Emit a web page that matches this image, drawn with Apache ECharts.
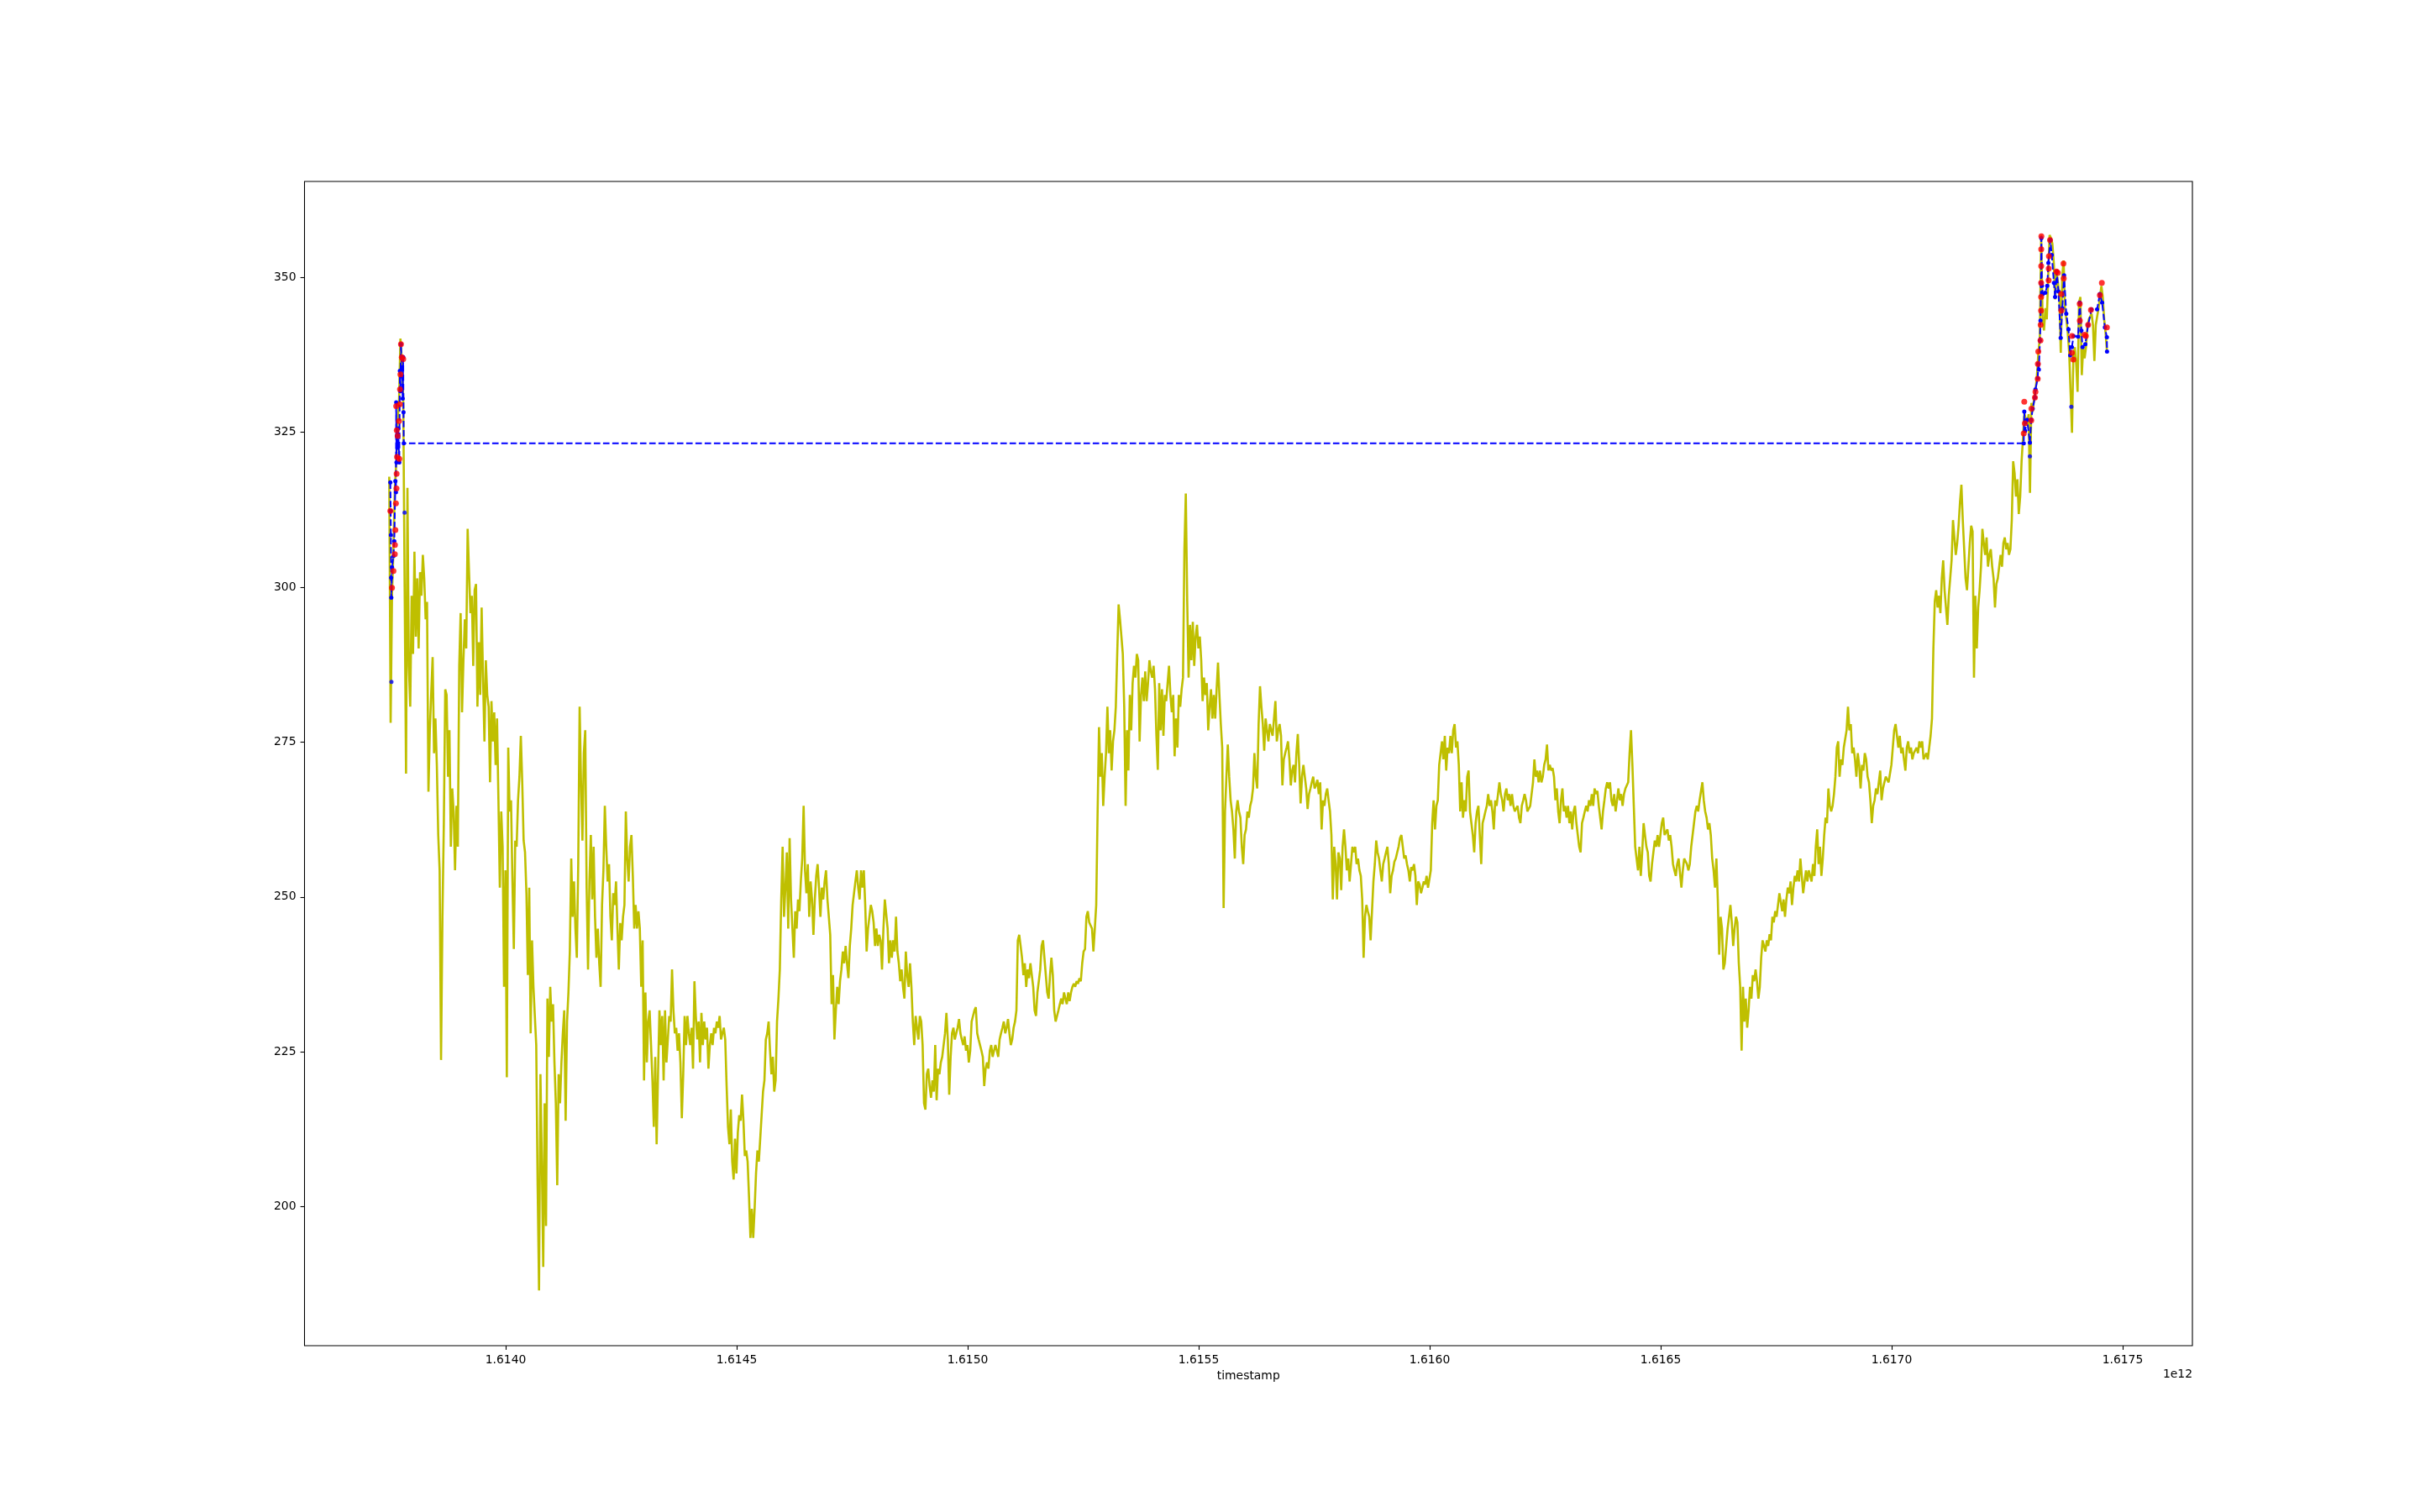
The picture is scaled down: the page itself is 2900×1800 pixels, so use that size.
<!DOCTYPE html>
<html>
<head>
<meta charset="utf-8">
<title>timestamp</title>
<script src="https://cdn.jsdelivr.net/npm/echarts/dist/echarts.min.js"></script>
<style>
html, body { margin: 0; padding: 0; background: #fff; }
#main { width: 2900px; height: 1800px; }
</style>
</head>
<body>
<div id="main"></div>
<script>
// closes, one reading every ~50 min, first at 2021-02-19 15:25 UTC
var closeStart = 1613747930000;
var closeStep = 3030303;

var closeFeb19 = [
	317.8, 278.1, 299.0, 306.0, 315.9, 320.1, 326.8, 330.0, 340.1, 336.5, 330.4, 300.0, 269.9, 316.0, 287.3, 280.7, 298.6, 289.2, 305.7, 292.0,
	301.4, 290.1, 302.4, 298.6, 305.2, 301.4, 294.8, 297.6, 267.0, 277.0, 283.0, 288.7, 273.2, 278.8, 271.3, 260.0, 254.3, 223.7, 246.8, 261.9,
	283.5, 282.6, 269.4, 276.9, 258.1, 267.5, 263.8, 254.3, 264.7, 258.1, 287.3, 295.8, 279.8, 288.2, 294.8, 290.1, 309.4, 302.4, 295.8, 298.6,
	287.3, 299.5, 300.5, 280.7, 291.1, 282.6, 296.7, 285.4, 275.1, 288.2, 282.6, 280.7, 268.5, 281.6, 275.1, 279.8, 271.3, 278.8, 265.6, 251.5,
	263.8, 258.1, 235.5, 254.3, 220.9, 274.1, 263.8, 265.6, 252.5, 241.6, 259.1, 258.1, 265.6, 269.4, 276.0, 268.5, 259.1, 257.2, 250.6, 237.4,
	251.5, 228.0, 243.0, 235.5, 230.8, 226.1, 203.5, 186.5, 221.4, 207.3, 190.3, 216.7, 196.9, 233.6, 224.2, 235.5, 229.9, 232.7, 223.3, 216.7,
	203.5, 221.4, 216.7, 223.3, 228.0, 231.7, 213.9, 229.9, 234.6, 241.2, 256.2, 246.8, 252.5, 244.9, 240.2, 255.3, 280.7, 268.5, 259.1, 273.2,
	276.9, 251.5, 238.3, 252.5, 260.0, 249.6, 258.1, 246.8, 240.2, 244.9, 239.3, 235.5, 248.7, 254.3, 264.7, 258.1, 252.5, 255.3, 246.8, 243.0,
	250.6, 248.7, 252.5, 244.9, 238.3, 245.8, 243.0, 246.8, 248.7, 263.8, 256.2, 252.5, 258.1, 260.0, 253.4, 244.9, 248.7, 244.9, 247.7, 244.9,
	235.5, 243.0, 220.4, 234.6, 223.3, 229.9, 231.7, 226.1, 220.4, 212.9, 224.2, 210.1, 221.4, 231.7, 226.1, 230.8, 220.4, 231.7, 223.3, 227.0,
	230.8, 229.9, 238.3, 231.7, 228.0, 228.9, 225.2, 228.0, 223.3, 214.3, 221.4, 230.8, 226.1, 230.8, 228.0, 226.1, 228.9, 222.3, 236.4, 230.8,
	227.0, 229.9, 223.3, 231.3, 226.1, 229.9, 227.0, 228.9, 222.3, 226.1, 228.0, 226.1, 228.9, 228.0, 229.9, 228.9, 230.8, 227.0
];
var closeFeb27 = [
	228.0, 228.9, 227.0, 219.5, 212.9, 210.1, 215.7, 207.3, 204.4, 211.0, 205.4, 212.0, 214.8, 213.9, 218.1, 213.9, 208.2, 209.1, 207.3, 201.6,
	195.0, 199.7, 195.0, 199.7, 205.4, 209.1, 207.3, 211.0, 214.8, 218.6, 220.4, 227.0, 228.0, 229.9, 225.2, 221.4, 224.2, 218.6, 220.4, 229.9,
	233.6, 238.3, 249.6, 258.1, 246.8, 251.5, 257.2, 244.9, 259.5, 249.6, 244.9, 240.2, 247.7, 244.9, 249.6, 247.7, 252.5, 256.2, 264.7, 254.3,
	250.6, 255.3, 246.8, 252.5, 249.6, 243.9, 249.6, 253.4, 255.3, 251.5, 246.8, 251.5, 249.6, 252.5, 254.3, 249.6, 246.8, 243.9, 232.7, 237.4,
	227.0, 231.7, 235.5, 232.7, 236.4, 238.3, 241.2, 239.3, 242.1, 239.3, 236.9, 242.1, 244.9, 248.7, 250.6, 252.5, 254.3, 251.5, 249.6, 254.3,
	251.5, 254.3, 248.7, 241.2, 244.9, 246.8, 248.7, 247.7, 245.9, 242.1, 244.9, 242.1, 243.9, 243.0, 238.3, 244.9, 249.6, 249.6, 244.9, 239.3,
	243.0, 240.2, 243.0, 241.2, 246.8, 241.2, 239.3, 236.4, 238.3, 235.5, 233.6, 241.2, 237.4, 235.5, 239.3, 235.5, 229.9, 226.1, 230.8, 228.9,
	227.0, 230.8, 229.9, 226.1, 216.7, 215.7, 221.4, 222.3, 219.5, 217.6, 220.4, 218.6, 226.1, 217.2, 222.3, 221.4, 223.3, 224.2, 226.1, 228.0,
	231.3, 227.0, 218.1, 224.2, 228.0, 228.9, 227.0, 228.0, 228.9, 230.3, 228.0, 227.0, 226.1, 227.5, 225.2, 226.1, 223.3, 225.2, 229.9, 230.8,
	231.7, 232.2, 228.0, 227.0, 226.1, 225.2, 224.2, 219.5, 222.3, 223.3, 222.3, 225.2, 226.1, 224.2, 225.2, 226.1, 225.2, 224.2, 227.0, 228.0,
	228.9, 229.9, 228.0, 228.9, 230.3, 228.0, 226.1, 227.0, 228.9, 229.9, 231.7, 243.0, 243.9, 242.1, 240.2, 237.4, 239.3, 235.5, 238.3, 236.9,
	239.3, 237.4, 235.5, 231.7, 230.8, 234.6, 236.4, 238.3, 242.1, 243.0, 240.2, 237.4, 234.6, 233.6, 237.4, 240.2, 237.4, 231.7, 229.9, 230.8,
	231.7, 232.7, 233.6, 232.7, 234.6, 233.6, 232.7, 234.6, 233.2, 234.6, 235.5, 236.0
];
var closeMar08 = [
	235.5, 236.4, 236.0, 236.9, 236.4, 239.3, 241.2, 241.6, 246.8, 247.7, 245.9, 245.4, 244.9, 241.2, 244.9, 248.7, 263.8, 277.4, 269.4, 273.2,
	264.7, 269.4, 273.2, 280.7, 273.2, 276.9, 270.4, 275.1, 276.9, 280.7, 289.2, 297.2, 294.8, 292.0, 289.2, 280.7, 264.7, 276.9, 270.4, 282.6,
	276.9, 284.5, 287.3, 285.4, 289.2, 288.2, 275.1, 282.6, 285.4, 281.6, 286.4, 281.6, 284.5, 288.2, 286.4, 285.4, 287.3, 283.5, 276.0, 270.5,
	284.5, 276.9, 283.5, 276.0, 282.6, 281.6, 284.5, 287.3, 282.6, 279.8, 282.6, 272.7, 278.8, 274.1, 282.6, 280.7, 283.5, 285.4, 306.1, 315.1,
	297.7, 285.4, 293.9, 288.2, 294.4, 287.3, 292.0, 293.9, 290.1, 292.0, 288.2, 281.6, 285.4, 282.6, 284.5, 276.9, 280.7, 283.5, 278.8, 282.6,
	278.8, 283.5, 287.8, 282.6, 277.9, 274.1, 248.2, 263.8, 269.4, 274.6, 269.4, 265.6, 263.8, 260.9, 256.2, 263.8, 265.6, 263.8, 262.8, 258.1,
	255.3, 260.0, 260.9, 263.8, 262.8, 264.7, 265.6, 267.5, 273.2, 269.4, 267.5, 277.9, 284.0, 280.7, 277.9, 273.6, 278.8, 276.9, 275.1, 277.9,
	276.9, 276.0, 278.8, 281.6, 275.1, 276.9, 277.9, 276.0, 268.0, 272.2, 273.2, 274.1, 275.1, 272.2, 268.0, 270.4, 271.3, 268.5, 273.2, 276.3,
	271.3, 265.1, 269.4, 271.3, 269.4, 267.5, 264.2, 266.6, 267.5, 268.5, 269.4, 267.5, 268.0, 268.9, 266.6, 268.5, 260.9, 265.6, 264.7, 266.6,
	267.5, 265.6, 263.8, 260.0, 249.6, 258.1, 255.3, 249.6, 257.2, 256.2, 251.1, 258.1, 260.9, 258.1, 254.3, 256.2, 252.5, 255.3, 258.1, 257.2,
	258.1, 255.3, 256.2, 254.3, 253.4, 249.6, 240.2, 246.8, 248.7, 247.7, 246.8, 243.0, 247.7, 252.5, 255.3, 259.1, 257.2, 256.2, 254.3, 252.5,
	255.3, 256.2, 257.2, 258.1, 255.3, 250.6, 253.4, 254.3, 255.7, 256.2, 257.2, 258.1, 259.5, 260.0, 258.1, 256.2, 256.7, 255.3, 254.3, 252.5,
	254.8, 254.3, 255.3, 253.4, 248.7, 252.5, 252.0, 250.6, 251.5, 252.5, 252.0, 253.4
];
var closeMar17 = [
	251.5, 252.9, 254.3, 261.9, 265.6, 260.9, 264.7, 265.6, 271.3, 273.2, 275.1, 272.2, 276.0, 270.4, 274.1, 273.2, 276.0, 273.2, 276.9, 277.9,
	274.1, 275.1, 271.3, 263.8, 268.5, 262.8, 265.6, 263.8, 269.4, 270.4, 263.8, 261.9, 260.0, 257.2, 261.9, 263.8, 264.7, 260.0, 255.3, 261.9,
	262.8, 263.8, 264.7, 266.6, 264.7, 265.6, 263.8, 260.9, 265.6, 264.7, 266.6, 268.5, 266.6, 265.6, 263.8, 266.6, 267.5, 265.6, 266.6, 264.7,
	266.6, 264.7, 263.8, 263.8, 264.7, 262.8, 261.9, 264.7, 265.6, 266.6, 265.6, 263.8, 263.8, 264.7, 264.7, 268.5, 272.2, 269.4, 270.4, 268.5,
	270.4, 268.5, 269.4, 271.3, 272.2, 274.6, 270.4, 271.3, 270.4, 270.8, 269.4, 265.6, 267.5, 263.8, 261.9, 265.6, 267.5, 263.8, 264.7, 262.8,
	264.7, 261.9, 263.8, 260.9, 263.8, 264.7, 261.9, 260.0, 258.1, 257.2, 261.9, 262.8, 263.8, 264.7, 263.8, 265.6, 264.7, 266.6, 264.7, 267.5,
	266.6, 267.1, 264.7, 262.8, 260.9, 263.8, 265.6, 267.5, 268.5, 267.5, 268.5, 265.6, 264.7, 266.6, 263.8, 265.6, 267.5, 265.6, 266.6, 264.7,
	266.6, 267.5, 267.5, 268.5, 273.2, 276.9, 271.3, 264.7, 258.1, 256.2, 254.3, 258.1, 253.4, 257.2, 261.9, 260.0, 258.1, 257.2, 253.4, 252.5,
	255.3, 257.2, 259.1, 258.1, 260.0, 258.1, 260.0, 261.9, 262.8, 260.0, 260.0, 260.9, 259.1, 260.0, 258.1, 255.3, 254.3, 253.4, 255.3, 256.2,
	256.2, 251.5, 254.3, 256.2, 256.2, 255.3, 254.3, 255.3, 258.1, 260.0, 261.9, 263.8, 264.7, 263.8, 265.6, 265.6, 268.5, 265.6, 263.8, 262.8,
	260.9, 261.9, 260.0, 256.2, 254.3, 251.5, 256.2, 249.6, 240.7, 246.8, 244.9, 238.3, 239.3, 242.1, 244.9, 246.8, 248.7, 245.9, 242.1, 244.9,
	246.8, 245.9, 239.3, 235.5, 225.2, 235.5, 229.9, 233.6, 228.9, 231.7, 235.5, 233.6, 237.4, 236.4, 238.3, 236.4, 233.6, 235.5, 240.2, 243.0,
	242.1, 241.2, 243.0, 242.1, 244.0, 243.0, 246.8, 245.9, 247.7, 246.8, 248.7, 250.6
];
var closeMar26 = [
	250.6, 247.7, 249.6, 246.8, 249.6, 251.5, 250.6, 252.5, 248.7, 251.5, 253.4, 252.5, 254.3, 252.5, 256.2, 253.4, 250.6, 252.5, 254.3, 252.5,
	254.3, 253.4, 252.5, 255.3, 253.4, 258.1, 260.9, 255.3, 258.1, 253.4, 256.2, 260.0, 262.8, 261.9, 267.5, 264.7, 263.8, 264.7, 266.6, 269.4,
	274.1, 275.1, 269.4, 272.2, 271.3, 274.1, 274.1, 276.9, 280.7, 276.9, 277.9, 273.2, 274.1, 272.2, 269.4, 273.2, 271.3, 267.5, 271.3, 270.4,
	273.2, 272.2, 269.4, 268.5, 265.6, 261.9, 264.7, 265.6, 267.5, 266.6, 268.5, 270.4, 265.6, 267.5, 268.5, 269.4, 269.4, 268.5, 268.5, 271.3,
	274.1, 276.9, 277.9, 276.0, 274.1, 276.0, 273.2, 274.1, 272.2, 270.4, 274.1, 275.1, 273.2, 274.1, 272.2, 273.2, 273.2, 274.1, 273.2, 275.1,
	274.1, 275.1, 272.2, 272.2, 273.2, 272.2, 274.1, 276.0, 278.8, 290.1, 297.7, 299.5, 296.7, 298.6, 295.8, 301.4, 304.3, 299.5, 296.7, 293.9,
	298.6, 301.4, 304.3, 310.8, 308.0, 305.2, 307.1, 309.9, 313.7, 316.5, 310.8, 306.1, 301.4, 299.5, 303.3, 307.1, 309.9, 309.0, 285.4, 298.6,
	290.1, 296.7, 299.5, 303.3, 309.4, 307.1, 305.2, 308.0, 303.3, 305.2, 306.1, 303.3, 301.4, 296.7, 300.5, 301.4, 303.3, 305.2, 303.3, 307.1,
	308.0, 306.1, 307.1, 305.2, 306.1, 310.8, 320.3, 318.4, 314.6, 317.4, 311.8, 314.6, 320.3, 324.0, 328.0, 327.9, 326.1, 327.9, 315.2, 329.7,
	328.3, 330.6, 331.9, 334.2, 337.8, 340.1, 356.8, 343.2, 341.4, 345.0, 343.2, 350.0, 356.8, 356.3, 355.4, 352.3, 346.4, 350.9, 349.1, 346.8,
	337.8, 350.0, 352.7, 345.0, 343.2, 341.0, 337.8, 331.5, 324.9, 337.4, 338.7, 336.0, 331.5, 345.9, 346.8, 334.2, 338.7, 336.9, 338.7, 341.9,
	343.2, 343.2, 344.1, 342.3, 336.5, 342.3, 343.7, 345.0, 346.8, 348.6, 346.8, 343.2, 341.0, 338.0
];

// blue dashed line (trades)
var tradeTimes = [
	1613.7503e9, 1613.7509e9, 1613.7515e9, 1613.7521e9, 1613.7524e9, 1613.7539e9, 1613.7570e9, 1613.7588e9,
	1613.7612e9, 1613.7624e9, 1613.7630e9, 1613.7636e9, 1613.7648e9, 1613.7661e9, 1613.7673e9, 1613.7697e9,
	1613.7709e9, 1613.7721e9, 1613.7733e9, 1613.7751e9, 1613.7770e9, 1613.7782e9, 1613.7788e9, 1613.7794e9,
	1617.2859e9, 1617.2871e9, 1617.2889e9, 1617.2932e9, 1617.2992e9, 1617.3022e9, 1617.3053e9, 1617.3101e9,
	1617.3113e9, 1617.3162e9, 1617.3174e9, 1617.3186e9, 1617.3210e9, 1617.3222e9, 1617.3234e9, 1617.3240e9,
	1617.3253e9, 1617.3271e9, 1617.3325e9, 1617.3368e9, 1617.3392e9, 1617.3435e9, 1617.3465e9, 1617.3513e9,
	1617.3538e9, 1617.3574e9, 1617.3610e9, 1617.3659e9, 1617.3695e9, 1617.3732e9, 1617.3780e9, 1617.3828e9,
	1617.3865e9, 1617.3901e9, 1617.3937e9, 1617.4035e9, 1617.4071e9, 1617.4107e9, 1617.4132e9, 1617.4192e9,
	1617.4253e9, 1617.4325e9, 1617.4447e9, 1617.4507e9, 1617.4556e9, 1617.4616e9, 1617.4659e9, 1617.4662e9
];
var tradePrices = [
	316.9, 312.3, 308.4, 301.5, 298.3, 303.2, 305.0, 307.4,
	317.1, 315.3, 329.8, 320.1, 324.4, 322.5, 325.6, 320.1,
	334.9, 331.6, 339.2, 335.2, 330.4, 337.1, 328.2, 323.2,
	323.2, 328.3, 325.2, 327.0, 323.3, 327.0, 328.8, 330.6,
	331.9, 333.7, 336.0, 335.1, 339.8, 343.0, 349.1, 356.3,
	348.6, 347.3, 347.5, 348.6, 352.3, 356.0, 353.6, 349.1,
	346.8, 350.9, 347.7, 340.2, 345.0, 350.3, 344.1, 341.6,
	337.4, 338.7, 340.5, 340.4, 345.9, 341.4, 338.7, 339.2,
	342.3, 344.8, 344.8, 347.3, 345.9, 341.9, 340.3, 338.0
];

// red markers
var buyTimes = [
	1613.7503e9, 1613.7539e9, 1613.7570e9, 1613.7600e9, 1613.7603e9, 1613.7612e9, 1613.7624e9, 1613.7636e9,
	1613.7639e9, 1613.7648e9, 1613.7661e9, 1613.7642e9, 1613.7630e9, 1613.7709e9, 1613.7712e9, 1613.7721e9,
	1613.7751e9, 1613.7782e9, 1613.7733e9, 1613.7697e9, 1613.7691e9,
	1617.2871e9, 1617.2859e9, 1617.2883e9, 1617.3022e9, 1617.3025e9, 1617.3101e9, 1617.3113e9, 1617.3162e9,
	1617.3165e9, 1617.3174e9, 1617.3222e9, 1617.3225e9, 1617.3234e9, 1617.3235e9, 1617.3236e9, 1617.3237e9,
	1617.3238e9, 1617.3241e9, 1617.3398e9, 1617.3400e9, 1617.3404e9, 1617.3428e9, 1617.3568e9, 1617.3598e9,
	1617.3671e9, 1617.3673e9, 1617.3719e9, 1617.3725e9, 1617.3901e9, 1617.3903e9, 1617.3932e9, 1617.4071e9,
	1617.4073e9, 1617.4174e9, 1617.4204e9, 1617.4253e9, 1617.4313e9, 1617.4507e9, 1617.4550e9, 1617.4659e9
];
var buyPrices = [
	312.3, 299.9, 302.6, 305.3, 306.8, 309.2, 313.5, 315.9,
	318.3, 321.0, 324.4, 325.3, 329.2, 329.5, 331.9, 334.3,
	337.1, 336.8, 339.2, 320.7, 326.8,
	329.9, 324.8, 326.4, 326.9, 328.8, 330.6, 331.5, 333.6,
	336.0, 338.0, 339.8, 342.3, 344.6, 346.8, 349.1, 351.8,
	354.5, 356.6, 349.5, 351.4, 353.4, 356.0, 350.9, 350.7,
	347.3, 344.6, 352.2, 349.8, 340.5, 337.8, 336.7, 345.7,
	343.0, 340.7, 340.5, 342.3, 344.7, 347.1, 349.1, 341.9
];

// lone blue markers off the dashed line
var sellTimes = [1613.7527e9, 1613.7812e9, 1617.2992e9, 1617.3889e9];
var sellPrices = [284.7, 312.0, 321.1, 329.1];

var xTicks = [1614.0e9, 1614.5e9, 1615.0e9, 1615.5e9, 1616.0e9, 1616.5e9, 1617.0e9, 1617.5e9];
var yTicks = [200, 225, 250, 275, 300, 325, 350];
var xMin = 1613.5645e9, xMax = 1617.651e9;
var yMin = 177.6, yMax = 365.45;

function zip(a, b) {
	var out = [];
	for (var i = 0; i < a.length; i++) {
		out.push([a[i], b[i]]);
	}
	return out;
}

var closes = closeFeb19.concat(closeFeb27, closeMar08, closeMar17, closeMar26);
var closeData = [];
for (var i = 0; i < closes.length; i++) {
	closeData.push([closeStart + i * closeStep, closes[i]]);
}

var font = 'DejaVu Sans';
var chart = echarts.init(document.getElementById('main'));
var option = {
	animation: false,
	backgroundColor: '#ffffff',
	grid: {
		left: 362.5, right: 290, top: 216, bottom: 198,
		show: true, borderColor: '#000', borderWidth: 1.1, backgroundColor: 'transparent'
	},
	xAxis: {
		type: 'value',
		min: xMin,
		max: xMax,
		name: 'timestamp',
		nameLocation: 'middle',
		nameGap: 28,
		nameTextStyle: { color: '#000', fontFamily: font, fontSize: 13.9 },
		axisLine: { show: false },
		axisTick: { show: true, length: 4.9, customValues: xTicks, lineStyle: { color: '#000', width: 1.1 } },
		axisLabel: {
			customValues: xTicks,
			margin: 10,
			color: '#000',
			fontFamily: font,
			fontSize: 13.9,
			formatter: function (v) { return (v / 1e12).toFixed(4); }
		},
		splitLine: { show: false }
	},
	yAxis: {
		type: 'value',
		min: yMin,
		max: yMax,
		axisLine: { show: false },
		axisTick: { show: true, length: 4.9, customValues: yTicks, lineStyle: { color: '#000', width: 1.1 } },
		axisLabel: { customValues: yTicks, margin: 10, color: '#000', fontFamily: font, fontSize: 13.9 },
		splitLine: { show: false }
	},
	graphic: [{
		type: 'text',
		right: 290,
		top: 1629,
		style: { text: '1e12', fill: '#000', font: '13.9px "DejaVu Sans"' }
	}],
	series: [
		{
			name: 'close',
			type: 'line',
			data: closeData,
			showSymbol: false,
			lineStyle: { color: '#bfbf00', width: 2.6 },
			z: 2,
			silent: true
		},
		{
			name: 'trade',
			type: 'line',
			data: zip(tradeTimes, tradePrices),
			symbol: 'circle',
			symbolSize: 5,
			showSymbol: true,
			showAllSymbol: true,
			itemStyle: { color: '#0000ff', borderWidth: 0 },
			lineStyle: { color: '#0000ff', width: 2, type: [7.7, 3.3] },
			z: 3,
			silent: true
		},
		{
			name: 'sell',
			type: 'scatter',
			data: zip(sellTimes, sellPrices),
			symbol: 'circle',
			symbolSize: 5,
			itemStyle: { color: '#0000ff' },
			z: 3,
			silent: true
		},
		{
			name: 'buy',
			type: 'scatter',
			data: zip(buyTimes, buyPrices),
			symbol: 'circle',
			symbolSize: 7,
			itemStyle: { color: '#ff0000' },
			z: 4,
			silent: true
		}
	]
};
chart.setOption(option);
</script>
</body>
</html>
